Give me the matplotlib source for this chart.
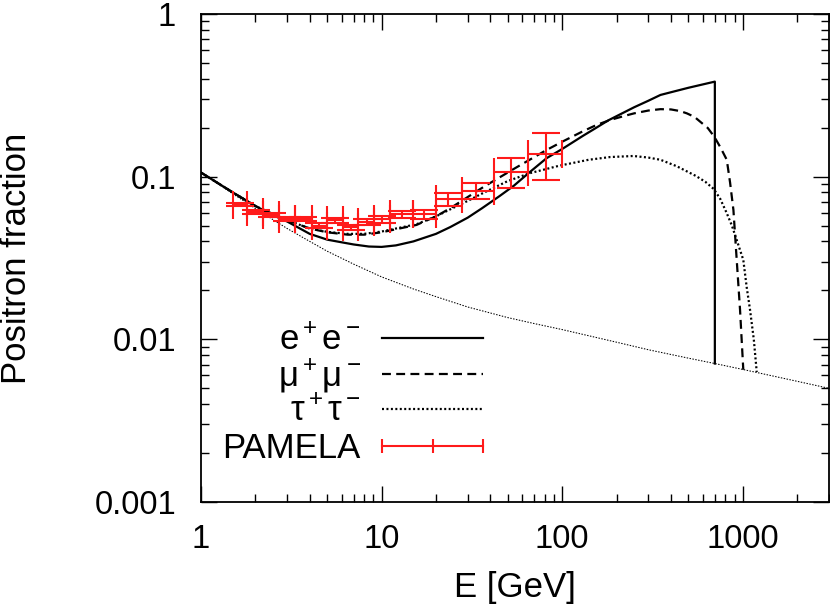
import numpy as np
import matplotlib
matplotlib.use('Agg')
import matplotlib.pyplot as plt
from matplotlib.ticker import FuncFormatter, NullFormatter, LogLocator
from matplotlib.legend_handler import HandlerBase
from matplotlib.legend import Legend
from matplotlib.lines import Line2D

plt.rcParams['font.family'] = ['Liberation Sans', 'DejaVu Sans']
plt.rcParams['mathtext.fontset'] = 'custom'
plt.rcParams['mathtext.rm'] = 'Liberation Sans'
plt.rcParams['mathtext.it'] = 'Liberation Sans:italic'
plt.rcParams['mathtext.bf'] = 'Liberation Sans:bold'

# background only (thin dotted)
bg_E = [1, 1.5, 2, 3, 4, 5, 7, 10, 15, 20, 30, 50, 70, 100, 200, 300, 500, 700,
        1000, 2000, 3000]
bg_f = [0.106, 0.0785, 0.0637, 0.0480, 0.0400, 0.0348, 0.0290, 0.0242, 0.0204,
        0.0183, 0.0158, 0.0136, 0.0125, 0.01148, 0.0096, 0.00863, 0.00766,
        0.0071, 0.00653, 0.00552, 0.0050]

# e+ e- channel
ee_E = [1, 1.5, 2, 2.5, 3, 4, 5, 6, 7, 8.5, 10, 12, 15, 20, 24, 30, 36, 45, 54,
        65, 82, 100, 130, 150, 180, 250, 300, 350, 420, 500, 600, 700, 700]
ee_f = [0.106, 0.080, 0.066, 0.058, 0.053, 0.0445, 0.041, 0.0395, 0.0383, 0.0372,
        0.0370, 0.0378, 0.0400, 0.0445, 0.049, 0.056, 0.064, 0.076, 0.088,
        0.105, 0.130, 0.148, 0.178, 0.196, 0.222, 0.267, 0.293, 0.318, 0.335,
        0.352, 0.369, 0.384, 0.0071]

# mu+ mu- channel
mm_E = [1, 1.5, 2, 2.5, 3, 4, 5, 6.5, 8, 10, 12, 15.6, 20, 24, 30, 37, 55, 82,
        100, 130, 155, 184, 220, 250, 300, 350, 400, 450, 490, 540, 580, 640,
        695, 750, 815, 850, 887, 925, 965, 1006]
mm_f = [0.106, 0.080, 0.066, 0.059, 0.054, 0.048, 0.0455, 0.0440, 0.0440, 0.0455,
        0.0475, 0.0505, 0.057, 0.064, 0.075, 0.087, 0.113, 0.146, 0.164, 0.190,
        0.208, 0.223, 0.236, 0.245, 0.255, 0.260, 0.259, 0.253, 0.245, 0.233,
        0.218, 0.199, 0.176, 0.152, 0.127, 0.092, 0.0624, 0.0308, 0.0152, 0.0065]

# tau+ tau- channel
tt_E = [1, 1.5, 2, 2.5, 3, 4, 5, 6.5, 8, 10, 12, 15.6, 20, 24, 30, 37, 50, 66,
        97, 140, 184, 248, 300, 350, 430, 550, 620, 690, 750, 815, 870, 925,
        1006, 1050, 1096, 1150, 1194]
tt_f = [0.106, 0.080, 0.066, 0.059, 0.054, 0.048, 0.0458, 0.0445, 0.0445, 0.046,
        0.048, 0.051, 0.057, 0.063, 0.071, 0.080, 0.094, 0.105, 0.117, 0.127,
        0.132, 0.134, 0.131, 0.127, 0.116, 0.101, 0.093, 0.084, 0.073, 0.0596,
        0.050, 0.0408, 0.0308, 0.021, 0.0152, 0.0100, 0.0063]

# PAMELA positron fraction
pam_E = [1.64, 2.02, 2.47, 3.01, 3.67, 4.53, 5.54, 6.76, 8.25, 10.1, 12.9, 17.2,
         23.4, 33.5, 51.8, 81.2]
pam_lo = [1.5, 1.8, 2.2, 2.7, 3.3, 4.1, 5.0, 6.1, 7.4, 9.1, 11.2, 15.0, 20.0,
          28.0, 42.0, 65.0]
pam_hi = [1.8, 2.2, 2.7, 3.3, 4.1, 5.0, 6.1, 7.4, 9.1, 11.2, 15.0, 20.0, 28.0,
          42.0, 65.0, 100.0]
pam_f = [0.0673, 0.0607, 0.0583, 0.0551, 0.0550, 0.0500, 0.0538, 0.0487, 0.0527,
         0.0547, 0.0586, 0.0589, 0.0729, 0.0814, 0.1064, 0.1373]
pam_errlo = [0.0017, 0.0015, 0.0015, 0.0015, 0.0016, 0.0016, 0.0019, 0.0020,
             0.0023, 0.0027, 0.0027, 0.0038, 0.0065, 0.0090, 0.021, 0.042]
pam_errhi = [0.0017, 0.0015, 0.0015, 0.0015, 0.0016, 0.0016, 0.0019, 0.0020,
             0.0023, 0.0027, 0.0027, 0.0038, 0.0065, 0.0100, 0.024, 0.048]

red = '#ff1a1a'


class HandlerXBar(HandlerBase):
    """horizontal error bar sample like gnuplot: line + ticks at ends and middle"""
    def create_artists(self, legend, orig_handle, xdescent, ydescent, width,
                       height, fontsize, trans):
        y = height / 2 - ydescent
        x0, x1 = -xdescent, -xdescent + width
        bar = Line2D([x0, x1], [y, y], color=red, lw=1.5)
        ticks = Line2D([x0, (x0 + x1) / 2, x1], [y, y, y], ls='none', marker='|',
                       markersize=10, mew=1.5, color=red)
        bar.set_transform(trans)
        ticks.set_transform(trans)
        return [bar, ticks]


fig = plt.figure(figsize=(8.3, 6.1), dpi=100)
ax = fig.add_axes([201 / 830, 1 - 502 / 610, 628 / 830, 488 / 610])

ax.plot(bg_E, bg_f, color='black', lw=0.75, dashes=(1.4, 1.4))
l_ee, = ax.plot(ee_E, ee_f, color='black', lw=1.6)
l_mm, = ax.plot(mm_E, mm_f, color='black', lw=1.6, dashes=(4, 2.4))
l_tt, = ax.plot(tt_E, tt_f, color='black', lw=1.6, dashes=(0.9, 1.1))

x = np.array(pam_E)
xerr = [x - np.array(pam_lo), np.array(pam_hi) - x]
yerr = [pam_errlo, pam_errhi]
pam = ax.errorbar(pam_E, pam_f, xerr=xerr, yerr=yerr, fmt='none', ecolor=red,
                  elinewidth=1.5, capsize=10, capthick=1.5, zorder=3)

ax.set_xscale('log')
ax.set_yscale('log')
ax.set_xlim(1, 3000)
ax.set_ylim(0.001, 1)

fmt = FuncFormatter(lambda v, p: '%g' % v)
ax.xaxis.set_major_formatter(fmt)
ax.yaxis.set_major_formatter(fmt)
ax.xaxis.set_minor_formatter(NullFormatter())
ax.yaxis.set_minor_formatter(NullFormatter())
ax.xaxis.set_minor_locator(LogLocator(base=10, subs=np.arange(2, 10), numticks=20))
ax.yaxis.set_minor_locator(LogLocator(base=10, subs=np.arange(2, 10), numticks=20))

ax.tick_params(which='both', direction='in', top=True, right=True, width=1,
               labelsize=23.5)
ax.tick_params(which='major', length=11.3)
ax.tick_params(which='minor', length=5.8)
ax.tick_params(axis='x', pad=16)
ax.tick_params(axis='y', pad=18)
for s in ax.spines.values():
    s.set_linewidth(1.3)

ax.set_xlabel('E [GeV]', fontsize=25)
ax.set_ylabel('Positron fraction', fontsize=25)
ax.xaxis.set_label_coords(0.5, -0.142)
ax.yaxis.set_label_coords(-0.2675, 0.5)

# gnuplot style key: one row per entry, label right-justified left of the sample
rows = [(l_ee, 'e$^+$e$^-$', 0.331),
        (l_mm, 'μ$^+$μ$^−$', 0.258),
        (l_tt, 'τ$^+$τ$^-$', 0.185),
        (pam, 'PAMELA', 0.109)]
for h, lab, yy in rows:
    lg = Legend(ax, [h], [lab], loc='center right', bbox_to_anchor=(0.449, yy),
                frameon=False, markerfirst=False, fontsize=25,
                handlelength=2.9, handletextpad=0.62, borderpad=0,
                borderaxespad=0, handler_map={pam: HandlerXBar()})
    ax.add_artist(lg)

fig.savefig('out.png', dpi=100)
